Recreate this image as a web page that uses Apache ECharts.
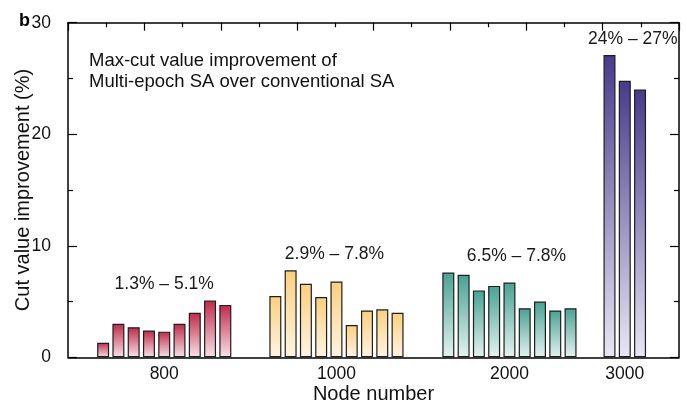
<!DOCTYPE html>
<html>
<head>
<meta charset="utf-8">
<script src="https://cdn.jsdelivr.net/npm/echarts@6/dist/echarts.min.js"></script>
<style>
html,body{margin:0;padding:0;background:#fff;}
#chart{width:687px;height:409px;}
</style>
</head>
<body>
<div id="chart"></div>
<script>
// ---- data ----
const nodeLabels = ['800', '1000', '2000', '3000'];
const values800  = [1.3, 3.0, 2.7, 2.4, 2.3, 3.0, 4.0, 5.1, 4.7];
const values1000 = [5.5, 7.8, 6.6, 5.4, 6.8, 2.9, 4.2, 4.3, 4.0];
const values2000 = [7.6, 7.4, 6.0, 6.4, 6.7, 4.4, 5.0, 4.2, 4.4];
const values3000 = [27.1, 24.8, 24.0];
const rangeLabels = ['1.3% \u2013 5.1%', '2.9% \u2013 7.8%', '6.5% \u2013 7.8%', '24% \u2013 27%'];
const yTicks = [0, 10, 20, 30];

// ---- layout (positions on the x scale) ----
const groupCenters = [1.26, 3.515, 5.78, 7.29];
const barStep = 0.2;

const FONT = '"Liberation Sans", Arial, Helvetica, sans-serif';
const groups = [values800, values1000, values2000, values3000];
const colors = [
  ['#c0294a', '#f9e2e7'],
  ['#fccf7e', '#fff4e2'],
  ['#48a293', '#e4f3f0'],
  ['#473a8c', '#e9e7f4']
];
const labelOffsets = [[0, 0], [-2, 0], [7, 0], [8, 0]];

const series = groups.map((vals, g) => {
  const start = groupCenters[g] - (vals.length - 1) / 2 * barStep;
  return {
    type: 'bar',
    name: nodeLabels[g],
    xAxisIndex: 0,
    yAxisIndex: 0,
    barWidth: 12,
    barGap: '-100%',
    data: vals.map((v, i) => [start + i * barStep, v]),
    itemStyle: {
      borderColor: '#1e1e1e',
      borderWidth: 1.2,
      color: new echarts.graphic.LinearGradient(0, 0, 0, 1, [
        { offset: 0, color: colors[g][0] },
        { offset: 1, color: colors[g][1] }
      ])
    },
    emphasis: { disabled: true },
    markPoint: {
      symbol: 'circle',
      symbolSize: 0,
      itemStyle: { color: 'transparent' },
      label: {
        show: true,
        position: 'top',
        distance: 7,
        offset: labelOffsets[g],
        color: '#1a1a1a',
        fontSize: 17.5,
        fontFamily: FONT,
        formatter: () => rangeLabels[g]
      },
      data: [{ coord: [groupCenters[g], Math.max(...vals)] }]
    }
  };
});

const chart = echarts.init(document.getElementById('chart'), null, { renderer: 'canvas' });
const axisLine = { show: true, onZero: false, lineStyle: { color: '#000', width: 1.5 } };
const tickStyle = { color: '#000', width: 1.2 };

chart.setOption({
  animation: false,
  backgroundColor: '#fff',
  textStyle: { fontFamily: FONT },
  grid: { left: 68, right: 8, top: 22.7, bottom: 51.7, containLabel: false, outerBoundsMode: 'none' },
  xAxis: [
    {
      type: 'value', position: 'bottom', min: 0, max: 8,
      axisLine: axisLine,
      axisTick: { show: false },
      minorTick: { show: false },
      splitLine: { show: false },
      axisLabel: {
        show: true,
        customValues: groupCenters,
        margin: 8,
        color: '#111',
        fontSize: 17.5,
        fontFamily: FONT,
        formatter: (v) => {
          const i = groupCenters.findIndex(c => Math.abs(c - v) < 1e-6);
          return i >= 0 ? nodeLabels[i] : '';
        }
      },
      name: 'Node number',
      nameLocation: 'middle',
      nameGap: 27,
      nameMoveOverlap: false,
      nameTextStyle: { color: '#111', fontSize: 20, fontFamily: FONT }
    },
    {
      type: 'value', position: 'top', min: 0, max: 8, interval: 1,
      axisLine: axisLine,
      axisTick: { show: true, inside: true, length: 8, lineStyle: tickStyle },
      minorTick: { show: true, splitNumber: 2, length: 4.5, lineStyle: tickStyle },
      axisLabel: { show: false },
      splitLine: { show: false },
      minorSplitLine: { show: false }
    }
  ],
  yAxis: [
    {
      type: 'value', position: 'left', min: 0, max: 30, interval: 10,
      axisLine: axisLine,
      axisTick: { show: true, inside: true, length: 9, lineStyle: tickStyle },
      minorTick: { show: true, splitNumber: 2, length: 5, lineStyle: tickStyle },
      splitLine: { show: false },
      minorSplitLine: { show: false },
      axisLabel: {
        margin: 17, color: '#111', fontSize: 17.5, fontFamily: FONT,
        customValues: yTicks
      },
      name: 'Cut value improvement (%)',
      nameLocation: 'middle',
      nameGap: 35,
      nameMoveOverlap: false,
      nameTextStyle: { color: '#111', fontSize: 20, fontFamily: FONT }
    },
    {
      type: 'value', position: 'right', min: 0, max: 30, interval: 10,
      axisLine: axisLine,
      axisTick: { show: true, inside: true, length: 9, lineStyle: tickStyle },
      minorTick: { show: true, splitNumber: 2, length: 5, lineStyle: tickStyle },
      splitLine: { show: false },
      minorSplitLine: { show: false },
      axisLabel: { show: false }
    }
  ],
  graphic: [
    {
      type: 'text', left: 19, top: 12,
      style: { text: 'b', font: 'bold 18px ' + FONT, fill: '#000' }
    },
    {
      type: 'text', left: 89, top: 50,
      style: {
        text: 'Max-cut value improvement of\nMulti-epoch SA over conventional SA',
        font: '18.5px ' + FONT, lineHeight: 21, fill: '#111'
      }
    }
  ],
  series: series
});
</script>
</body>
</html>
